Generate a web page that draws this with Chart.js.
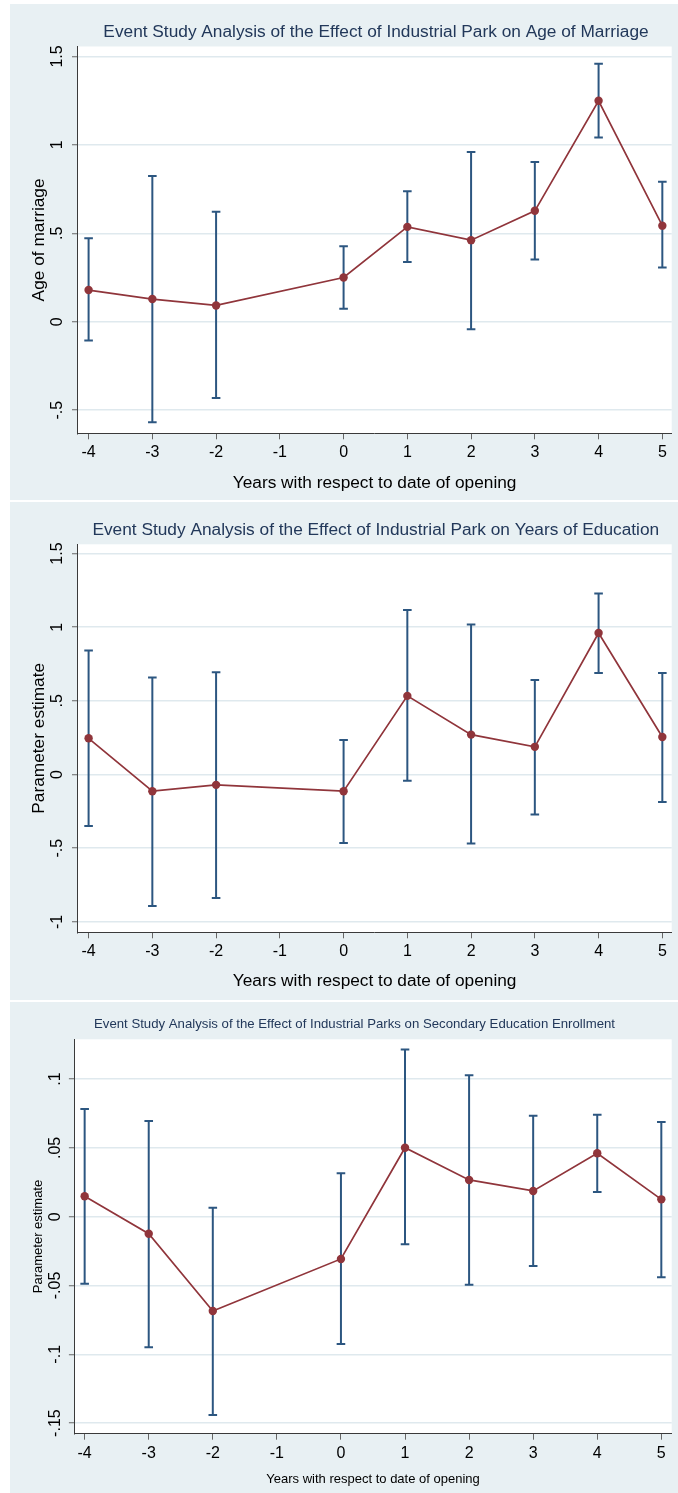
<!DOCTYPE html>
<html>
<head>
<meta charset="utf-8">
<script src="https://cdn.jsdelivr.net/npm/chart.js@4.4.1/dist/chart.umd.min.js"></script>
<style>
  html, body { margin: 0; padding: 0; background: #ffffff; }
  body { width: 678px; height: 1493px; position: relative; overflow: hidden; }
  .panel { position: absolute; left: 0; width: 678px; }
  canvas { display: block; }
</style>
</head>
<body>
<div class="panel" style="top:0;height:501px"><canvas id="marriageChart" width="678" height="501"></canvas></div>
<div class="panel" style="top:501px;height:500px"><canvas id="educationChart" width="678" height="500"></canvas></div>
<div class="panel" style="top:1001px;height:492px"><canvas id="enrollmentChart" width="678" height="492"></canvas></div>

<script>
// Event-time categories (years relative to opening; -1 is the omitted reference year)
const eventYears = [-4, -3, -2, 0, 1, 2, 3, 4, 5];
const xTickValues = [-4, -3, -2, -1, 0, 1, 2, 3, 4, 5];
const xTickLabels = ['-4', '-3', '-2', '-1', '0', '1', '2', '3', '4', '5'];

// Age of marriage: point estimates and 95% confidence bounds
const marriageEst  = [0.179, 0.128, 0.092, 0.250, 0.536, 0.461, 0.627, 1.249, 0.543];
const marriageLow  = [-0.107, -0.569, -0.432, 0.073, 0.337, -0.043, 0.352, 1.042, 0.307];
const marriageHigh = [0.472, 0.824, 0.622, 0.427, 0.738, 0.959, 0.903, 1.458, 0.791];
const marriageYTicks = [-0.5, 0, 0.5, 1, 1.5];
const marriageYLabels = ['-.5', '0', '.5', '1', '1.5'];

// Years of education
const educationEst  = [0.246, -0.113, -0.070, -0.113, 0.534, 0.271, 0.188, 0.961, 0.255];
const educationLow  = [-0.349, -0.892, -0.838, -0.464, -0.043, -0.469, -0.272, 0.690, -0.186];
const educationHigh = [0.842, 0.658, 0.694, 0.235, 1.117, 1.018, 0.642, 1.229, 0.690];
const educationYTicks = [-1, -0.5, 0, 0.5, 1, 1.5];
const educationYLabels = ['-1', '-.5', '0', '.5', '1', '1.5'];

// Secondary education enrollment
const enrollEst  = [0.0148, -0.0124, -0.0685, -0.0307, 0.0501, 0.0267, 0.0187, 0.0461, 0.0126];
const enrollLow  = [-0.0487, -0.0949, -0.1441, -0.0925, -0.0201, -0.0494, -0.0358, 0.0180, -0.0440];
const enrollHigh = [0.0783, 0.0696, 0.0065, 0.0315, 0.1214, 0.1028, 0.0734, 0.0741, 0.0688];
const enrollYTicks = [-0.15, -0.1, -0.05, 0, 0.05, 0.1];
const enrollYLabels = ['-.15', '-.1', '-.05', '0', '.05', '.1'];

const FONT = "'Liberation Sans', Arial, Helvetica, sans-serif";
const GRAPH_BG = 'rgb(232,240,243)';
const GRID = 'rgb(223,233,238)';
const AXIS = '#3a3a3a';
const TICK = '#666666';
const NAVY = '#2c5680';
const MAROON = '#90353b';
const TITLE_COLOR = '#22385a';

// Paints the graph region, the white plot region, the heading and the rotated y labels
const panelPaint = {
  id: 'panelPaint',
  beforeDraw(chart, args, o) {
    const { ctx, chartArea: a, width, height } = chart;
    ctx.save();
    ctx.fillStyle = '#ffffff';
    ctx.fillRect(0, 0, width, height);
    ctx.fillStyle = GRAPH_BG;
    ctx.fillRect(o.bgLeft, o.bgTop, width - o.bgLeft, o.bgBottom - o.bgTop);
    ctx.fillStyle = '#ffffff';
    ctx.fillRect(a.left, a.top, a.right - a.left, a.bottom - a.top);
    ctx.restore();
  },
  afterDraw(chart, args, o) {
    const ctx = chart.ctx;
    const yScale = chart.scales.y;
    ctx.save();
    ctx.fillStyle = TITLE_COLOR;
    ctx.font = o.titleSize + 'px ' + FONT;
    ctx.textAlign = 'center';
    ctx.textBaseline = 'middle';
    ctx.fillText(o.title, o.titleX, o.titleY);

    ctx.fillStyle = '#000000';
    ctx.font = o.tickSize + 'px ' + FONT;
    ctx.textAlign = 'center';
    ctx.textBaseline = 'alphabetic';
    yScale.ticks.forEach((t, i) => {
      const py = yScale.getPixelForValue(t.value);
      ctx.save();
      ctx.translate(o.yLabelX, py);
      ctx.rotate(-Math.PI / 2);
      ctx.fillText(o.yLabels[i], 0, 0);
      ctx.restore();
    });
    ctx.restore();
  }
};

function buildPanel(canvasId, est, low, high, yTicks, yLabels, p) {
  const estPoints = eventYears.map((x, i) => ({ x: x, y: est[i] }));
  const ciPoints = [];
  eventYears.forEach((x, i) => {
    ciPoints.push({ x: x, y: low[i] }, { x: x, y: high[i] }, { x: x, y: null });
  });

  return new Chart(document.getElementById(canvasId), {
    type: 'line',
    data: {
      datasets: [
        {
          label: p.estLabel,
          data: estPoints,
          borderColor: MAROON,
          borderWidth: 1.7,
          backgroundColor: MAROON,
          pointRadius: 4.2,
          pointHoverRadius: 4.2,
          pointBackgroundColor: MAROON,
          pointBorderWidth: 0,
          tension: 0
        },
        {
          label: '95% CI',
          data: ciPoints,
          borderColor: NAVY,
          borderWidth: 2,
          pointStyle: 'line',
          pointRadius: 4.3,
          pointHoverRadius: 4.3,
          pointBorderColor: NAVY,
          pointBorderWidth: 2,
          spanGaps: false,
          tension: 0
        }
      ]
    },
    options: {
      responsive: false,
      maintainAspectRatio: false,
      animation: false,
      devicePixelRatio: 1,
      events: [],
      layout: { padding: { left: 0, top: p.padTop, right: p.padRight, bottom: 0 } },
      plugins: {
        legend: { display: false },
        tooltip: { enabled: false },
        panelPaint: {
          bgLeft: 10, bgTop: p.bgTop, bgBottom: p.bgBottom,
          title: p.title, titleX: p.titleX, titleY: p.titleY, titleSize: p.titleSize,
          yLabels: yLabels, yLabelX: p.yLabelX, tickSize: 16
        }
      },
      scales: {
        x: {
          type: 'linear',
          min: p.xMin,
          max: p.xMax,
          afterBuildTicks: s => { s.ticks = xTickValues.map(v => ({ value: v })); },
          afterFit: s => { s.height = p.xAxisH; },
          grid: { display: true, drawOnChartArea: false, drawTicks: true, tickLength: 6, tickColor: TICK, tickWidth: 1 },
          border: { display: true, color: AXIS, width: 1 },
          ticks: {
            autoSkip: false, maxRotation: 0, minRotation: 0, padding: p.xTickPad,
            color: '#000000', font: { family: FONT, size: 16 },
            callback: v => xTickLabels[xTickValues.indexOf(v)]
          },
          title: {
            display: true, text: 'Years with respect to date of opening',
            color: '#000000', font: { family: FONT, size: p.axisTitleSize },
            padding: { top: 0, bottom: p.xTitlePad }
          }
        },
        y: {
          type: 'linear',
          min: p.yMin,
          max: p.yMax,
          afterBuildTicks: s => { s.ticks = yTicks.map(v => ({ value: v })); },
          afterFit: s => { s.width = p.yAxisW; },
          grid: { display: true, drawOnChartArea: true, color: GRID, lineWidth: 1.5, drawTicks: true, tickLength: 5.5, tickColor: TICK, tickWidth: 1 },
          border: { display: true, color: AXIS, width: 1 },
          ticks: { display: false },
          title: {
            display: true, text: p.yTitle,
            color: '#000000', font: { family: FONT, size: p.axisTitleSize },
            padding: { top: p.yTitlePad, bottom: 0 }
          }
        }
      }
    },
    plugins: [panelPaint]
  });
}

buildPanel('marriageChart', marriageEst, marriageLow, marriageHigh, marriageYTicks, marriageYLabels, {
  estLabel: 'Age of marriage',
  title: 'Event Study Analysis of the Effect of Industrial Park on Age of Marriage',
  titleX: 376, titleY: 32.5, titleSize: 17.3, axisTitleSize: 17.3,
  yTitle: 'Age of marriage', yTitlePad: 28.6, yLabelX: 62.3,
  bgTop: 4, bgBottom: 500,
  padTop: 46.5, padRight: 4.5, yAxisW: 77.5, xAxisH: 67.7, xTickPad: 3.6, xTitlePad: 7.6,
  xMin: -4.174, xMax: 5.147, yMin: -0.631, yMax: 1.556
});

buildPanel('educationChart', educationEst, educationLow, educationHigh, educationYTicks, educationYLabels, {
  estLabel: 'Years of education',
  title: 'Event Study Analysis of the Effect of Industrial Park on Years of Education',
  titleX: 375.8, titleY: 29.2, titleSize: 17.3, axisTitleSize: 17.3,
  yTitle: 'Parameter estimate', yTitlePad: 28.6, yLabelX: 62.3,
  bgTop: 1, bgBottom: 499,
  padTop: 43.3, padRight: 4.5, yAxisW: 77.5, xAxisH: 68.7, xTickPad: 3.8, xTitlePad: 8.9,
  xMin: -4.174, xMax: 5.147, yMin: -1.071, yMax: 1.563
});

buildPanel('enrollmentChart', enrollEst, enrollLow, enrollHigh, enrollYTicks, enrollYLabels, {
  estLabel: 'Secondary enrollment',
  title: 'Event Study Analysis of the Effect of Industrial Parks on Secondary Education Enrollment',
  titleX: 354.5, titleY: 23.7, titleSize: 13.2, axisTitleSize: 13,
  yTitle: 'Parameter estimate', yTitlePad: 30.2, yLabelX: 60,
  bgTop: 1, bgBottom: 492,
  padTop: 38.3, padRight: 3.5, yAxisW: 74.4, xAxisH: 59.3, xTickPad: 4.5, xTitlePad: 6.0,
  xMin: -4.160, xMax: 5.162, yMin: -0.1577, yMax: 0.1289
});
</script>
</body>
</html>
